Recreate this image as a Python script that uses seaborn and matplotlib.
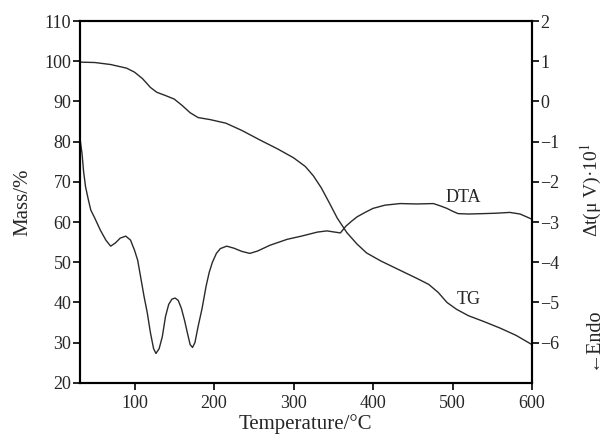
import matplotlib
matplotlib.use('Agg')
import matplotlib.pyplot as plt
import seaborn as sns

# TG curve (temperature / °C, mass / %)
tg_temp = [31, 50, 70, 90, 100, 110, 120, 128, 140, 150, 160, 170, 180, 195,
           215, 235, 258, 280, 300, 315, 325, 335, 345, 355, 367, 380, 392,
           410, 434, 455, 470, 482, 493, 505, 520, 540, 560, 580, 600]
tg_mass = [99.8, 99.7, 99.2, 98.3, 97.3, 95.7, 93.5, 92.3, 91.4, 90.6, 89.0,
           87.2, 86.0, 85.5, 84.6, 82.8, 80.4, 78.2, 76.0, 73.8, 71.5, 68.5,
           64.8, 61.0, 57.4, 54.5, 52.3, 50.3, 48.0, 46.0, 44.5, 42.5, 40.0,
           38.3, 36.7, 35.2, 33.6, 31.8, 29.5]

# DTA curve (temperature / °C, signal)
dta_temp = [31, 34, 36, 38.4, 42, 45, 50, 57, 64, 70, 76, 82, 89, 95, 100, 104,
            108, 112, 116, 120, 124, 127, 131, 135, 139, 143, 147, 151, 155,
            159, 163, 167, 170, 173, 176, 180, 185, 190, 194, 198, 203, 208,
            216, 225, 235, 245, 255, 270, 292, 310, 330, 342, 352, 359, 366,
            373, 380, 390, 400, 415, 434, 455, 476, 485, 493, 500, 507, 520,
            539, 555, 572, 585, 600]
dta_signal = [-0.85, -1.3, -1.75, -2.12, -2.45, -2.7, -2.9, -3.2, -3.45, -3.6,
              -3.52, -3.4, -3.35, -3.45, -3.7, -3.95, -4.4, -4.85, -5.25, -5.75,
              -6.15, -6.27, -6.15, -5.85, -5.35, -5.05, -4.92, -4.89, -4.95,
              -5.15, -5.45, -5.8, -6.05, -6.12, -6.0, -5.6, -5.15, -4.6, -4.25,
              -4.0, -3.78, -3.66, -3.6, -3.65, -3.73, -3.78, -3.72, -3.58,
              -3.43, -3.35, -3.25, -3.22, -3.25, -3.27, -3.1, -2.98, -2.87,
              -2.76, -2.66, -2.58, -2.54, -2.55, -2.54, -2.6, -2.66, -2.73,
              -2.79, -2.8, -2.79, -2.78, -2.76, -2.8, -2.93]

sns.set_style('ticks')
plt.rcParams['font.family'] = ['Liberation Serif', 'DejaVu Serif']
plt.rcParams['mathtext.fontset'] = 'stix'

fig = plt.figure(figsize=(6.08, 4.4), dpi=100)
ax = fig.add_axes([0.131, 0.130, 0.744, 0.822])
ax2 = ax.twinx()

line_color = '#2a2a2a'
sns.lineplot(x=tg_temp, y=tg_mass, ax=ax, color=line_color, linewidth=1.0,
             estimator=None, sort=False)
sns.lineplot(x=dta_temp, y=dta_signal, ax=ax2, color=line_color, linewidth=1.0,
             estimator=None, sort=False)

ax.set_xlim(31, 600)
ax.set_ylim(20, 110)
ax.set_xticks([100, 200, 300, 400, 500, 600])
ax.set_yticks(range(20, 111, 10))
ax2.set_ylim(-7, 2)
ax2.set_yticks(range(-6, 3))

for a in (ax, ax2):
    for s in a.spines.values():
        s.set_linewidth(1.5)
        s.set_color('black')
    a.tick_params(labelsize=13, width=1.2, length=5, color='black', pad=1)
ax.tick_params(axis='x', pad=4)

ax.set_xlabel('Temperature/°C', fontsize=15, labelpad=1)
ax.set_ylabel('Mass/%', fontsize=15, labelpad=9)

ax.text(513, 66, 'DTA', fontsize=13, ha='center', va='center')
ax.text(520, 40.8, 'TG', fontsize=13, ha='center', va='center')

fig.text(0.972, 0.568, 'Δt(μ V)·10$^1$', rotation=90, fontsize=14,
         ha='center', va='center')
fig.text(0.974, 0.232, '←Endo', rotation=90, fontsize=14.5,
         ha='center', va='center')

fig.savefig('out.png', dpi=100)
